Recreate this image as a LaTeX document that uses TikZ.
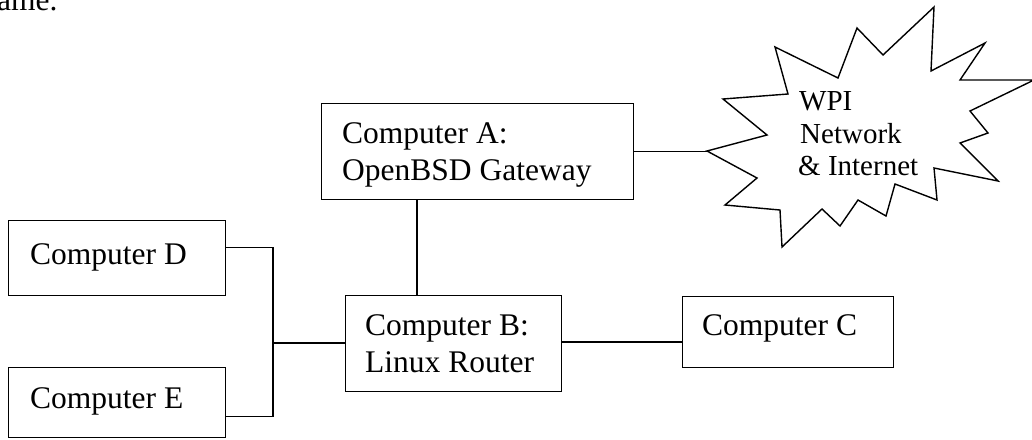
\documentclass[tikz,border=0pt]{standalone}
\usepackage{fontspec}
\setmainfont{Liberation Serif}
\usetikzlibrary{calc}
\begin{document}
\begin{tikzpicture}[x=1pt,y=-1pt,
  box/.style={draw,line width=1.4pt,inner sep=0pt,anchor=north west},
  lbl/.style={anchor=base west,inner sep=0pt,font=\fontsize{31.5}{37}\selectfont},
  cloudlbl/.style={anchor=base west,inner sep=0pt,font=\fontsize{29}{33}\selectfont},
  wire/.style={line width=1.4pt},
  burst/.style={draw,line width=1.4pt,line join=miter}]
\useasboundingbox (0,0) rectangle (1032,439);

% tail of the preceding paragraph
\node[lbl] (tail) at (-3,10) {ame.};

% machines
\node[box,minimum width=312pt,minimum height=96pt] (A) at (321,103) {};
\node[box,minimum width=216pt,minimum height=96pt] (B) at (345,295) {};
\node[box,minimum width=211pt,minimum height=71pt] (C) at (682,296) {};
\node[box,minimum width=217pt,minimum height=75pt] (D) at (8,220) {};
\node[box,minimum width=217pt,minimum height=70pt] (E) at (8,367) {};

\node[lbl] (A1) at (342,143) {Computer A:};
\node[lbl] (A2) at (342,180) {OpenBSD Gateway};
\node[lbl] (B1) at (365,335) {Computer B:};
\node[lbl] (B2) at (365,372) {Linux Router};
\node[lbl] (C1) at (702,335) {Computer C};
\node[lbl] (D1) at (30,264) {Computer D};
\node[lbl] (E1) at (30,408) {Computer E};

% outside network burst
\coordinate (net) at (707,151);
\draw[burst] (net) -- (767,135) -- (723,99) -- (788,94) -- (775,47) -- (838,78)
  -- (857,28) -- (883,55) -- (934,7) -- (931,71) -- (985,43) -- (960,80)
  -- (1034,80) -- (970,111) -- (988,133) -- (960,143) -- (998,181) -- (934,168)
  -- (937,200) -- (895,184) -- (886,216) -- (858,200) -- (840,226) -- (822,209)
  -- (782,247) -- (780,210) -- (725,205) -- (757,178) -- cycle;
\node[cloudlbl] (W1) at (799,110) {WPI};
\node[cloudlbl] (W2) at (800,143) {Network};
\node[cloudlbl] (W3) at (798,175) {\&\ Internet};

% links
\coordinate (ab) at (417,0);
\coordinate (bus) at (273,343);
\coordinate (dp) at ($(D.north east)!0.36!(D.south east)$);
\coordinate (ep) at ($(E.north east)!0.69!(E.south east)$);

\draw[wire] (A.east) -- (A.east -| net);
\draw[wire] (A.south -| ab) -- (B.north -| ab);
\draw[wire] (B.east |- 0,342) -- (C.west |- 0,342);
\draw[wire] (dp) -| (bus);
\draw[wire] (ep) -| (bus);
\draw[wire] (bus) -- (bus -| B.west);
\end{tikzpicture}
\end{document}
